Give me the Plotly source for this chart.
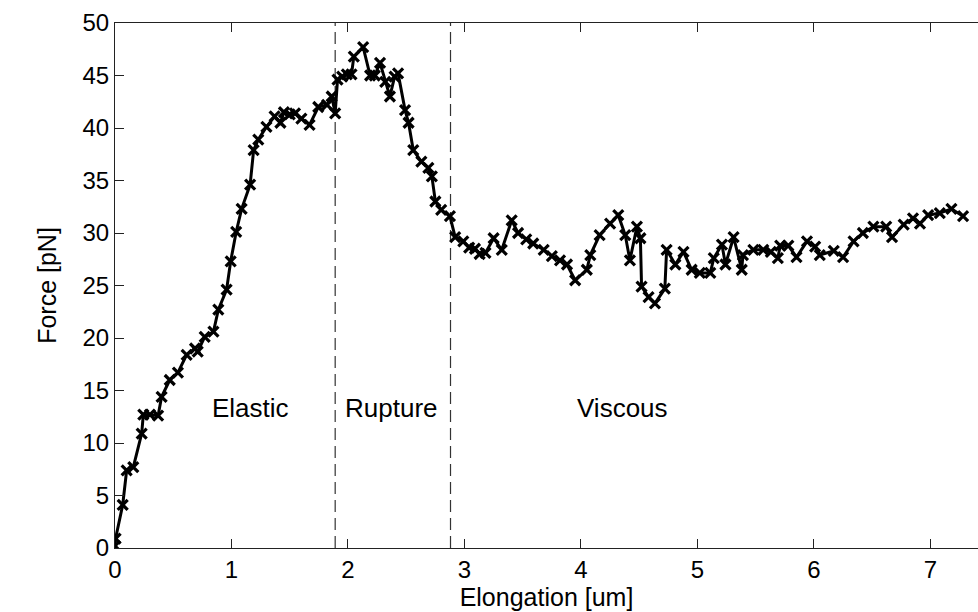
import plotly.graph_objects as go

elongation = [0.0, 0.005, 0.066, 0.10, 0.157, 0.229, 0.243, 0.30, 0.37, 0.40, 0.47, 0.54, 0.615, 0.687, 0.71,
              0.77, 0.845, 0.887, 0.958, 0.993, 1.04, 1.087, 1.16, 1.19, 1.23, 1.30, 1.37, 1.42, 1.45, 1.50,
              1.545, 1.60, 1.67, 1.745, 1.82, 1.86, 1.89, 1.91, 1.95, 1.99, 2.03, 2.05, 2.13, 2.19, 2.23,
              2.275, 2.32, 2.36, 2.40, 2.43, 2.49, 2.52, 2.56, 2.63, 2.69, 2.72, 2.75, 2.80, 2.875, 2.92,
              2.99, 3.04, 3.09, 3.13, 3.18, 3.25, 3.32, 3.405, 3.46, 3.53, 3.59, 3.68, 3.75, 3.82, 3.88,
              3.95, 4.05, 4.08, 4.16, 4.25, 4.32, 4.38, 4.42, 4.48, 4.51, 4.52, 4.58, 4.635, 4.72, 4.735,
              4.81, 4.88, 4.95, 5.02, 5.11, 5.14, 5.21, 5.24, 5.31, 5.38, 5.39, 5.48, 5.565, 5.63, 5.69,
              5.71, 5.78, 5.85, 5.94, 6.01, 6.05, 6.17, 6.25, 6.34, 6.42, 6.51, 6.62, 6.67, 6.77, 6.85,
              6.91, 6.98, 7.08, 7.18, 7.28]
force = [0.2, 0.9, 4.1, 7.4, 7.7, 10.9, 12.7, 12.7, 12.6, 14.4, 16.0, 16.7, 18.4, 19.0, 18.7,
         20.1, 20.6, 22.7, 24.6, 27.3, 30.1, 32.3, 34.6, 37.9, 38.9, 40.1, 41.1, 40.5, 41.5, 41.3,
         41.4, 40.9, 40.3, 42.0, 42.2, 43.0, 41.4, 44.6, 44.9, 45.1, 45.1, 46.8, 47.7, 45.0, 45.0,
         46.2, 44.4, 43.0, 44.9, 45.2, 41.7, 40.5, 37.9, 36.8, 36.2, 35.4, 33.0, 32.2, 31.6, 29.6,
         29.2, 28.6, 28.5, 28.0, 28.1, 29.5, 28.4, 31.2, 30.0, 29.4, 29.0, 28.4, 27.8, 27.4, 27.0,
         25.5, 26.5, 27.9, 29.8, 30.9, 31.7, 29.8, 27.4, 30.6, 29.5, 24.9, 23.9, 23.3, 24.7, 28.4,
         27.0, 28.2, 26.5, 26.2, 26.2, 27.6, 28.9, 27.0, 29.6, 26.5, 27.9, 28.4, 28.4, 28.2, 27.6,
         28.8, 28.8, 27.7, 29.2, 28.7, 27.9, 28.3, 27.7, 29.2, 30.0, 30.6, 30.6, 29.6, 30.8, 31.4,
         30.9, 31.7, 31.9, 32.3, 31.6]

boundaries = [1.89, 2.88]
region_labels = ["Elastic", "Rupture", "Viscous"]
region_label_x = [1.16, 2.37, 4.36]
region_label_y = 13.3
x_ticks = [0, 1, 2, 3, 4, 5, 6, 7]
y_ticks = [0, 5, 10, 15, 20, 25, 30, 35, 40, 45, 50]

FONT = "Liberation Sans, Arial, sans-serif"

fig = go.Figure()

for b in boundaries:
    fig.add_trace(go.Scatter(x=[b, b], y=[0, 50], mode="lines",
                             line=dict(color="#333333", width=1.2, dash="12px,6px"),
                             showlegend=False, hoverinfo="skip"))

fig.add_trace(go.Scatter(
    x=elongation, y=force, mode="lines+markers",
    line=dict(color="black", width=3),
    marker=dict(symbol="x-thin", size=10, color="black",
                line=dict(color="black", width=3.2)),
    showlegend=False))

for lab, lx in zip(region_labels, region_label_x):
    fig.add_annotation(x=lx, y=region_label_y, text=lab, showarrow=False,
                       font=dict(family=FONT, size=26, color="black"),
                       xanchor="center", yanchor="middle")

fig.update_layout(
    width=978, height=612,
    margin=dict(l=115, r=0, t=23, b=64, pad=0),
    paper_bgcolor="white", plot_bgcolor="white",
    font=dict(family=FONT, size=24, color="black"),
    showlegend=False,
)
fig.update_xaxes(
    range=[0, 7.408], tickvals=x_ticks, ticks="inside", ticklen=9, tickwidth=1,
    tickcolor="#222", showline=True, linecolor="#222", linewidth=1, mirror="ticks",
    showgrid=False, zeroline=False,
    title=dict(text="Elongation [um]", font=dict(family=FONT, size=25), standoff=0),
    tickfont=dict(family=FONT, size=24),
)
fig.update_yaxes(
    range=[0, 50], tickvals=y_ticks, ticks="inside", ticklen=9, tickwidth=1,
    tickcolor="#222", showline=True, linecolor="#222", linewidth=1, mirror=False,
    showgrid=False, zeroline=False,
    title=dict(text="Force [pN]", font=dict(family=FONT, size=25), standoff=18),
    tickfont=dict(family=FONT, size=24),
)

fig.write_html("out.html")
